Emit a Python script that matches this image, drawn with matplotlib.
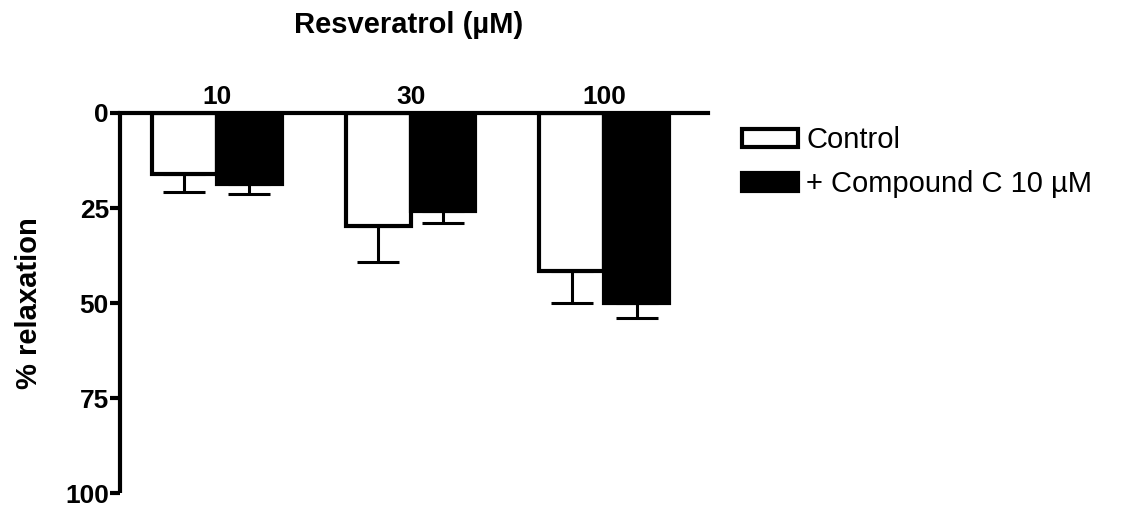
import numpy as np
import matplotlib
matplotlib.use("Agg")
import matplotlib.pyplot as plt

plt.rcParams['font.family'] = ['Liberation Sans', 'DejaVu Sans']

# data (% relaxation, mean and SEM)
doses = ['10', '30', '100']
control = [16.0, 29.8, 41.5]
control_err = [4.9, 9.4, 8.5]
compound = [18.8, 25.8, 50.0]
compound_err = [2.5, 3.2, 3.9]
series_names = ['Control', '+ Compound C 10 \u00b5M']

fig = plt.figure(figsize=(11.23, 5.09), dpi=100)
ax = fig.add_axes([0.1069, 0.0314, 0.5236, 0.7466])

x = np.arange(len(doses))
w = 0.335
lw = 3

ax.bar(x - w/2, control, w, color='white', edgecolor='black', linewidth=lw,
       label=series_names[0], zorder=2)
ax.bar(x + w/2, compound, w, color='black', edgecolor='black', linewidth=lw,
       label=series_names[1], zorder=2)
ax.errorbar(x - w/2, control, yerr=[np.zeros(3), control_err], fmt='none',
            ecolor='black', elinewidth=2.2, capsize=15, capthick=2.2, zorder=1)
ax.errorbar(x + w/2, compound, yerr=[np.zeros(3), compound_err], fmt='none',
            ecolor='black', elinewidth=2.2, capsize=15, capthick=2.2, zorder=1)

ax.set_xlim(-0.5, 2.536)
ax.set_ylim(100, 0)

ax.spines['right'].set_visible(False)
ax.spines['bottom'].set_visible(False)
ax.spines['left'].set_linewidth(3)
ax.spines['top'].set_linewidth(3)
ax.spines['left'].set_capstyle('butt')

ax.xaxis.tick_top()
ax.set_xticks(x)
ax.set_xticklabels(doses, fontsize=19, fontweight='bold')
ax.tick_params(axis='x', length=0, pad=3)
ax.set_yticks([0, 25, 50, 75, 100])
ax.set_yticklabels(['0', '25', '50', '75', '100'], fontsize=19, fontweight='bold')
ax.tick_params(axis='y', length=7, width=3, pad=1)

ax.set_ylabel('% relaxation', fontsize=21, fontweight='bold', labelpad=16)
fig.text(0.364, 0.95, 'Resveratrol (\u00b5M)', ha='center', va='center',
         fontsize=21, fontweight='bold')

leg = ax.legend(loc='upper left', bbox_to_anchor=(1.058, 0.965), frameon=False,
                fontsize=21, handlelength=1.9, handleheight=0.55,
                handletextpad=0.3, labelspacing=0.55, borderpad=0,
                borderaxespad=0)

fig.savefig('out.png', dpi=100)
